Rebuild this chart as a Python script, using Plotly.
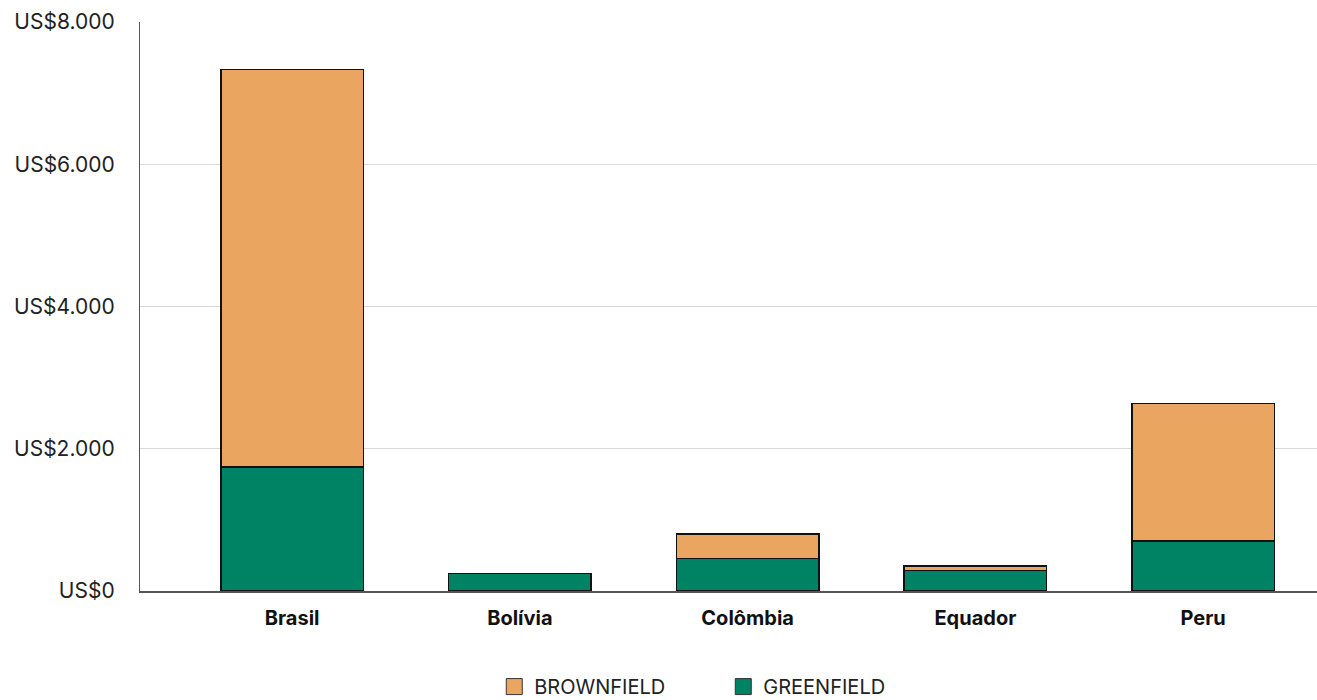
import plotly.graph_objects as go

paises = ["Brasil", "Bolívia", "Colômbia", "Equador", "Peru"]
greenfield = [1740, 245, 455, 285, 700]
brownfield = [5590, 0, 345, 70, 1935]

tick_vals = [0, 2000, 4000, 6000, 8000]
tick_text = ["US$0", "US$2.000", "US$4.000", "US$6.000", "US$8.000"]

COR_GREEN = "#008264"
COR_BROWN = "#EAA660"
FONTE = "Inter, Lato, sans-serif"

fig = go.Figure()

fig.add_trace(go.Bar(
    x=paises, y=greenfield, name="GREENFIELD",
    marker=dict(color=COR_GREEN, line=dict(color="#111111", width=1.5)),
    width=0.625, showlegend=False,
))
fig.add_trace(go.Bar(
    x=paises, y=brownfield, name="BROWNFIELD",
    marker=dict(color=COR_BROWN, line=dict(color="#111111", width=1.5)),
    width=0.625, showlegend=False,
))

# legend entries with larger square swatches
for nome, cor in [("BROWNFIELD", COR_BROWN), ("GREENFIELD", COR_GREEN)]:
    fig.add_trace(go.Scatter(
        x=[None], y=[None], mode="markers", name=nome,
        marker=dict(symbol="square", size=18, color=cor,
                    line=dict(color="#333333", width=1)),
    ))

fig.update_layout(
    barmode="stack",
    width=1317, height=700,
    margin=dict(l=140, r=0, t=22, b=109, autoexpand=False),
    plot_bgcolor="white", paper_bgcolor="white",
    font=dict(family=FONTE, color="#222222"),
    legend=dict(
        orientation="h", x=0.301, xanchor="left", y=-0.168, yanchor="middle",
        traceorder="normal",
        font=dict(size=20, family=FONTE, color="#222222"),
        entrywidth=184, entrywidthmode="pixels", itemsizing="trace",
    ),
    xaxis=dict(
        type="category", range=[-0.668, 4.5],
        showline=True, linecolor="#555555", linewidth=1.5,
        tickfont=dict(size=20, family=FONTE, color="#111111", weight="bold"),
        ticks="", ticklabelstandoff=8,
    ),
    yaxis=dict(
        range=[0, 8000], tickvals=tick_vals, ticktext=tick_text,
        showgrid=True, gridcolor="#d9d9d9", gridwidth=1.2,
        showline=True, linecolor="#555555", linewidth=1.2,
        zeroline=False,
        tickfont=dict(size=21, family=FONTE, color="#222222"),
        ticks="", ticklabelstandoff=20,
    ),
)

fig.write_html("out.html")
